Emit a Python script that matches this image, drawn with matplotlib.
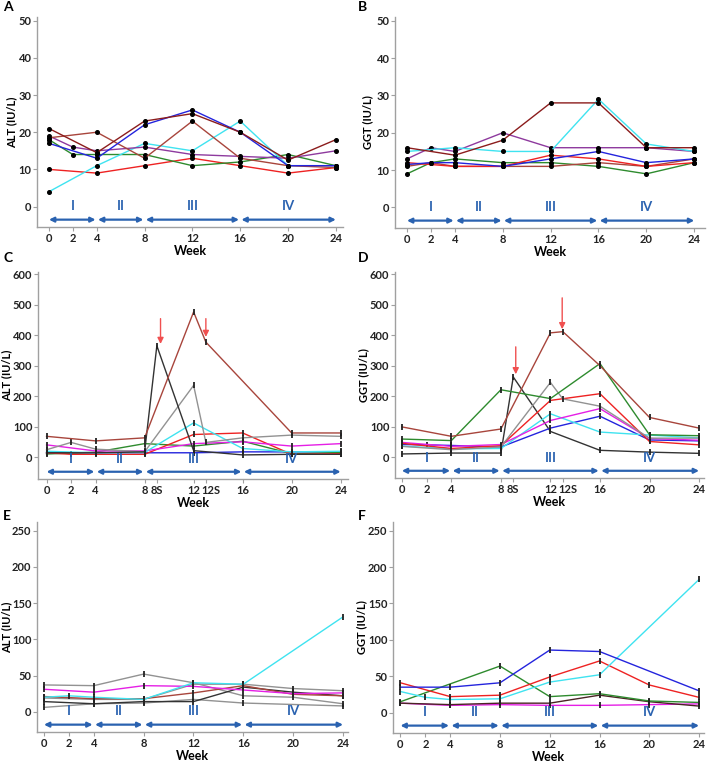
import numpy as np
import matplotlib
matplotlib.use("Agg")
import matplotlib.pyplot as plt
import matplotlib.transforms as mtransforms

nan = np.nan
plt.rcParams['font.family'] = ['Lato', 'DejaVu Sans']

# x positions (8S and 12S sit one week after 8 and 12)
weeks = [0, 2, 4, 8, 12, 16, 20, 24]
weeks_s = [0, 2, 4, 8, 9, 12, 13, 16, 20, 24]
week_labels = ['0', '2', '4', '8', '12', '16', '20', '24']
week_labels_s = ['0', '2', '4', '8', '8S', '12', '12S', '16', '20', '24']

phases = ['I', 'II', 'III', 'IV']
phase_edges = [0, 4, 8, 16, 24]

# panel A: ALT
a_red = [10, nan, 9, 11, 13, 11, 9, 10.5]
a_green = [18, 14, 14, 14, 11, 12, 14, 11]
a_cyan = [4, nan, 11, 17, 15, 23, 11, 11]
a_blue = [17, nan, 13, 22, 26, 20, 11, 11]
a_brown = [21, nan, 14.5, 23, 25, 20, 12.5, 18]
a_brown2 = [18.5, nan, 20, 13, 23, 13, 11, 10.5]
a_purple = [19, 16, 15, 16, 14, 13.5, 13, 15]

# panel B: GGT
b_brown = [16, nan, 14, 18, 28, 28, 16, 16]
b_cyan = [15, nan, 16, 15, 15, 29, 17, 15]
b_purple = [13, 16, 15, 20, 16, 16, 16, 15]
b_blue = [11.5, 12, 12, 11, 13, 15, 12, 13]
b_green = [9, 12, 13, 12, 12, 11, 9, 12]
b_red = [12, nan, 11, 11, 14, 13, 11, 12]
b_brown2 = [11, 12, 11, 11, 11, 12, 11, 13]

# panel C: ALT (with 8S / 12S)
c_brown = [69, nan, 54, 64, nan, 477, 378, nan, 80, 80]
c_black = [15, nan, 15, 18, 366, 22, nan, 8, 10, 10]
c_gray = [25, 49, 27, 18, nan, 236, 49, 64, 73, 69]
c_cyan = [20, nan, 15, 16, nan, 113, nan, 29, 18, 20]
c_red = [15, 10, 10, 10, nan, 75, nan, 80, 10, 12]
c_green = [11, nan, 17, 45, nan, 37, nan, 53, 12, 16]
c_magenta = [41, nan, 21, 21, nan, 45, nan, 51, 37, 45]
c_blue = [15, nan, 15, 15, nan, 15, nan, 18, 18, 18]

# panel D: GGT (with 8S / 12S)
d_brown = [99, nan, 68, 92, nan, 408, 412, 300, 130, 95]
d_green = [59, nan, 54, 221, nan, 192, nan, 307, 73, 70]
d_black = [10, nan, 13, 13, 263, 84, nan, 22, 16, 12]
d_gray = [35, nan, 24, 33, nan, 245, 191, 167, 62, 62]
d_red = [45, nan, 28, 37, nan, 186, nan, 208, 51, 40]
d_magenta = [48, nan, 35, 41, nan, 120, nan, 159, 61, 55]
d_cyan = [36, nan, 27, 28, nan, 142, nan, 82, 72, 63]
d_blue = [41, 40, 38, 33, nan, 95, nan, 134, 56, 53]

# panel E: ALT
e_gray = [37, nan, 36, 52, 40, 22, 20, 11]
e_gray2 = [19, nan, 17, 17, 38, 38, 32, 29]
e_gray3 = [6, nan, 11, 12, 17, 12, nan, 8]
e_magenta = [31, nan, 27, 36, 35, 30, 25, 26]
e_cyan = [20, 22, 20, 17, 40, 38, nan, 131]
e_brown = [21, nan, 18, 18, 26, 36, 24, 22]
e_black = [14, nan, 11, 14, 14, 34, 27, 22]

# panel F: GGT
f_blue = [35, nan, 35, 41, 86, 84, nan, 30]
f_red = [41, nan, 22, 24, 49, 71, 38, 21]
f_cyan = [29, 21, 18, 19, 42, 52, nan, 183]
f_green = [15, nan, nan, 64, 22, 26, 16, 14]
f_black = [13, nan, 11, 13, 13, 24, 15, 9]
f_magenta = [13, nan, 10, 11, 10, 10, 11, 12]

RED = '#ee2222'
GREEN = '#2e8b2e'
CYAN = '#3fe3f0'
BLUE = '#2424dd'
BROWN = '#8b1c1c'
BROWN2 = '#a8453c'
PURPLE = '#8e3a9e'
MAGENTA = '#e51fe5'
GRAY = '#929292'
BLACK = '#333333'
PHASE = '#2a62b0'

W, H = 709, 762
fig = plt.figure(figsize=(W / 100, H / 100), dpi=100)


def axes_px(left, top, right, bottom):
    ax = fig.add_axes([left / W, 1 - bottom / H, (right - left) / W, (bottom - top) / H])
    ax.px_left, ax.px_width = left, right - left
    return ax


def panel(ax, x, series, ylim, yticks, ylabel, xlim, xticks, xlabels, letter, lx, ly,
          label_x, dots=True, red_arrows=()):
    for vals, col in series:
        v = np.array(vals, dtype=float)
        xs = np.array(x, dtype=float)
        ok = ~np.isnan(v)
        if dots:
            ax.plot(xs[ok], v[ok], color=col, lw=1.0, marker='o', ms=2.6,
                    mfc='black', mec='black', zorder=3)
        else:
            ax.plot(xs[ok], v[ok], color=col, lw=1.0, marker='|', ms=4.5,
                    mew=1.3, mec='#222222', zorder=3)
    ax.set_xlim(*xlim)
    ax.set_ylim(*ylim)
    ax.set_yticks(yticks)
    ax.set_xticks(xticks)
    ax.set_xticklabels(xlabels)
    for s in ['top', 'right']:
        ax.spines[s].set_visible(False)
    for s in ['left', 'bottom']:
        ax.spines[s].set_color('#a0a0a0')
        ax.spines[s].set_linewidth(1.0)
    ax.tick_params(length=3, width=0.8, color='#a0a0a0', labelsize=8, pad=1.5)
    ax.tick_params(axis='y', pad=1)
    for t in ax.get_xticklabels() + ax.get_yticklabels():
        t.set_fontweight('bold')
        t.set_color('#222222')
        if t.get_text() == '12S':
            t.set_transform(t.get_transform() +
                            mtransforms.ScaledTranslation(5 / 100, 0, fig.dpi_scale_trans))
    ax.set_ylabel(ylabel, fontsize=8, fontweight='bold')
    ax.yaxis.label.set_va('center')
    ax.yaxis.set_label_coords((label_x - ax.px_left) / ax.px_width, 0.5)
    ax.set_xlabel('Week', fontsize=9, fontweight='bold', labelpad=0.5)

    rng = ylim[1] - ylim[0]
    ya = ylim[0] + 0.035 * rng
    yl = ylim[0] + 0.07 * rng
    for i, name in enumerate(phases):
        x0, x1 = phase_edges[i] + 0.1, phase_edges[i + 1] - 0.1
        if i == 0:
            x0 = phase_edges[0]
        if i == len(phases) - 1:
            x1 = phase_edges[-1]
        ax.annotate('', xy=(x1, ya), xytext=(x0, ya),
                    arrowprops=dict(arrowstyle='<|-|>', color=PHASE, lw=1.6,
                                    mutation_scale=7, shrinkA=0, shrinkB=0))
        ax.text((phase_edges[i] + phase_edges[i + 1]) / 2, yl, name, color=PHASE,
                fontsize=9.5, fontweight='bold', ha='center', va='bottom')

    for xa, ytop, ytip in red_arrows:
        ax.annotate('', xy=(xa, ytip), xytext=(xa, ytop),
                    arrowprops=dict(arrowstyle='-|>', color='#f05050', lw=1.0,
                                    mutation_scale=9, shrinkA=0, shrinkB=0))
    fig.text(lx / W, 1 - ly / H, letter, fontsize=10, fontweight='bold',
             ha='left', va='center')


ax = axes_px(37, 17, 343, 227)
panel(ax, weeks,
      [(a_red, RED), (a_green, GREEN), (a_cyan, CYAN), (a_purple, PURPLE),
       (a_brown2, BROWN2), (a_blue, BLUE), (a_brown, BROWN)],
      (-5.5, 51), range(0, 51, 10), 'ALT (IU/L)', (-1.0, 24.6), weeks, week_labels,
      'A', 3, 7, 12)

ax = axes_px(395, 17, 705, 228)
panel(ax, weeks,
      [(b_green, GREEN), (b_brown2, BROWN2), (b_red, RED), (b_blue, BLUE),
       (b_purple, PURPLE), (b_cyan, CYAN), (b_brown, BROWN)],
      (-5.5, 51), range(0, 51, 10), 'GGT (IU/L)', (-1.0, 24.9), weeks, week_labels,
      'B', 358, 7, 368)

ax = axes_px(38, 272, 348, 479)
panel(ax, weeks_s,
      [(c_blue, BLUE), (c_green, GREEN), (c_red, RED), (c_magenta, MAGENTA),
       (c_cyan, CYAN), (c_gray, GRAY), (c_black, BLACK), (c_brown, BROWN2)],
      (-71, 608), range(0, 601, 100), 'ALT (IU/L)', (-0.7, 24.6), weeks_s, week_labels_s,
      'C', 3, 258, 7, dots=False, red_arrows=[(9.3, 455, 372), (13.0, 455, 395)])

ax = axes_px(395, 272, 704, 478)
panel(ax, weeks_s,
      [(d_black, BLACK), (d_blue, BLUE), (d_cyan, CYAN), (d_magenta, MAGENTA),
       (d_red, RED), (d_gray, GRAY), (d_green, GREEN), (d_brown, BROWN2)],
      (-69, 608), range(0, 601, 100), 'GGT (IU/L)', (-0.55, 24.4), weeks_s, week_labels_s,
      'D', 358, 258, 364, dots=False, red_arrows=[(9.2, 362, 272), (12.95, 523, 420)])

ax = axes_px(37, 522, 348, 732)
panel(ax, weeks,
      [(e_gray3, GRAY), (e_gray2, GRAY), (e_gray, GRAY), (e_black, BLACK),
       (e_brown, BROWN2), (e_magenta, MAGENTA), (e_cyan, CYAN)],
      (-28, 262), range(0, 251, 50), 'ALT (IU/L)', (-0.56, 24.4), weeks, week_labels,
      'E', 3, 516, 6.5, dots=False)

ax = axes_px(393, 522, 704, 733)
panel(ax, weeks,
      [(f_magenta, MAGENTA), (f_black, '#4a2424'), (f_green, GREEN), (f_red, RED),
       (f_cyan, CYAN), (f_blue, BLUE)],
      (-28, 262), range(0, 251, 50), 'GGT (IU/L)', (-0.6, 24.4), weeks, week_labels,
      'F', 358, 516, 362, dots=False)

fig.savefig('out.png', dpi=100)
